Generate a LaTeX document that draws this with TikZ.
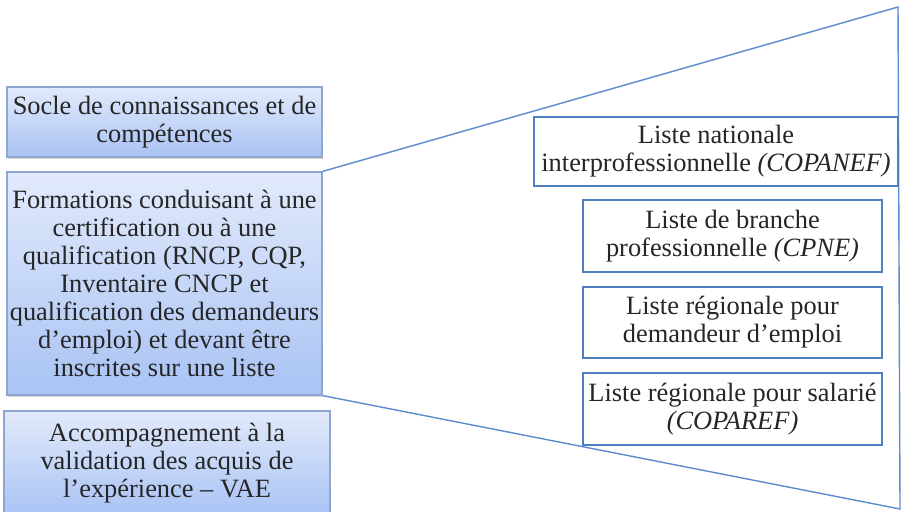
\documentclass[tikz,border=0pt]{standalone}
\usepackage{fontspec}
\setmainfont{Liberation Serif}
\usetikzlibrary{shadows}
\definecolor{boxtop}{HTML}{E2EAFB}
\definecolor{boxbot}{HTML}{A9C3F4}
\definecolor{boxrim}{HTML}{8FA6CF}
\definecolor{listrim}{HTML}{4F7FC0}
\definecolor{zoomblue}{HTML}{5C8BD0}
\begin{document}
\begin{tikzpicture}[x=0.5pt,y=-0.5pt,
    txt/.style={font=\fontsize{13.2}{14}\selectfont,align=center,text=black!85,inner sep=0pt},
    offre/.style={txt,draw=boxrim,line width=.6pt,top color=boxtop,bottom color=boxbot,
        drop shadow={shadow xshift=.6pt,shadow yshift=-1.2pt,opacity=.35}},
    liste/.style={txt,draw=listrim,line width=1.4pt,fill=white},
    zoom/.style={draw=zoomblue,line width=.7pt}]
  \useasboundingbox (0,0) rectangle (903,512);
  % left column
  \node[offre,minimum width=157.5pt,minimum height=35pt] at (164.5,122) (socle)
      {Socle de connaissances et de\\compétences};
  \node[offre,minimum width=157.5pt,minimum height=111.5pt] at (164.5,283.5) (form)
      {Formations conduisant à une\\certification ou à une\\qualification (RNCP, CQP,\\Inventaire CNCP et\\qualification des demandeurs\\d’emploi) et devant être\\inscrites sur une liste};
  \node[offre,minimum width=163pt,minimum height=52pt] at (167,463) (vae)
      {Accompagnement à la\\validation des acquis de\\l’expérience -- VAE};
  % zoom on the lists
  \coordinate (haut) at (898,7);
  \coordinate (bas) at (900,509);
  \draw[zoom] (form.north east) -- (haut) -- (bas) -- (form.south east);
  % right column
  \node[liste,minimum width=182pt,minimum height=34.5pt] at (716,151.5) (nat)
      {Liste nationale\\interprofessionnelle \textit{(COPANEF)}};
  \node[liste,minimum width=149.5pt,minimum height=36pt] at (732.5,236) (branche)
      {Liste de branche\\professionnelle \textit{(CPNE)}};
  \node[liste,minimum width=149.5pt,minimum height=35.5pt] at (732.5,322.5) (region)
      {Liste régionale pour\\demandeur d’emploi};
  \node[liste,minimum width=149.5pt,minimum height=36pt] at (732.5,409) (salarie)
      {Liste régionale pour salarié\\\textit{(COPAREF)}};
\end{tikzpicture}
\end{document}
